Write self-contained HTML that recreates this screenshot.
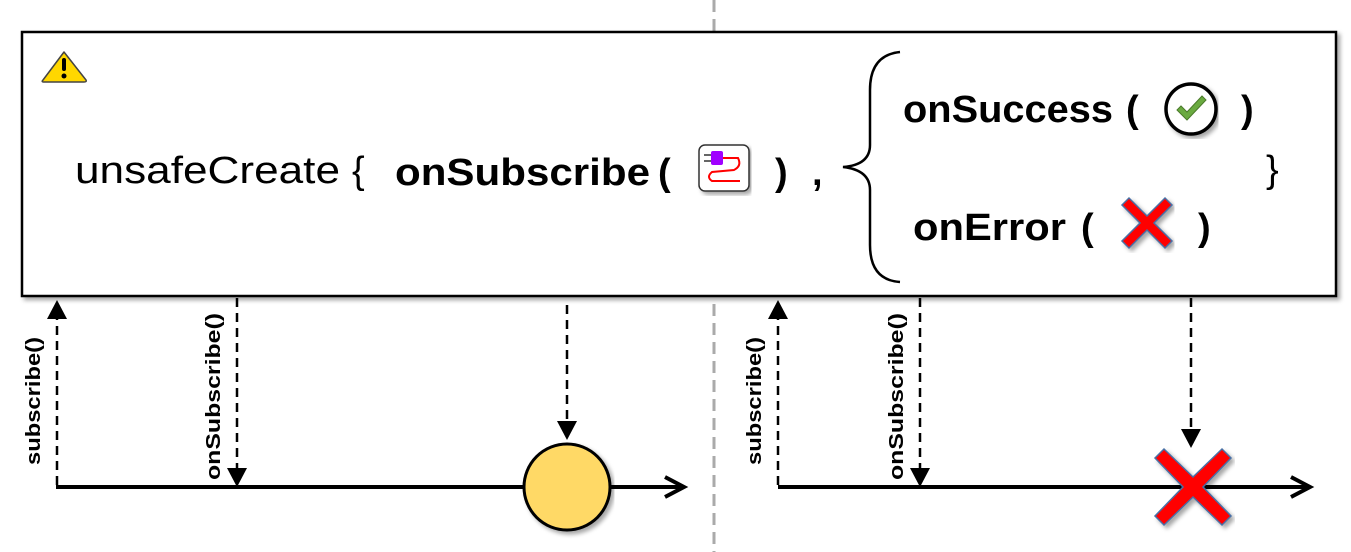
<!DOCTYPE html>
<html><head><meta charset="utf-8"><style>
html,body{margin:0;padding:0;background:#fff;}
svg{display:block;}
text{font-family:"Liberation Sans",sans-serif;}
</style></head><body>
<svg width="1351" height="552" viewBox="0 0 1351 552" xmlns="http://www.w3.org/2000/svg">
<defs>
<filter id="sh" x="-5%" y="-5%" width="110%" height="115%"><feDropShadow dx="3" dy="3" stdDeviation="2" flood-color="#000" flood-opacity="0.35"/></filter>
</defs>
<line x1="714" y1="0" x2="714" y2="552" stroke="#aaa" stroke-width="3" stroke-dasharray="12,7"/>
<rect x="22" y="32" width="1314" height="264" fill="#fff" stroke="#000" stroke-width="2.5" filter="url(#sh)"/>
<path d="M64,52 L86,80 Q87,82 84,82 L44,82 Q41,82 43,80 Z" fill="#FFD700" stroke="#444" stroke-width="1.5" stroke-linejoin="round"/>
<rect x="62" y="58" width="4" height="13" rx="2" fill="#000"/>
<circle cx="64" cy="76" r="2.5" fill="#000"/>
<text x="75" y="183" font-size="38" textLength="265" lengthAdjust="spacingAndGlyphs">unsafeCreate</text>
<text x="352" y="183" font-size="38">{</text>
<text x="395" y="185" font-size="38" font-weight="bold" textLength="255" lengthAdjust="spacingAndGlyphs">onSubscribe</text>
<text x="658" y="185" font-size="38" font-weight="bold">(</text>
<text x="775" y="185" font-size="38" font-weight="bold">)</text>
<text x="812" y="185" font-size="38" font-weight="bold">,</text>
<rect x="699" y="145" width="50" height="46" rx="6" fill="#fff" stroke="#333" stroke-width="1.5" filter="url(#sh)"/>
<rect x="711" y="151" width="12" height="14" rx="2" fill="#a000ff"/>
<rect x="704" y="154" width="7" height="2" fill="#666"/><rect x="704" y="160" width="7" height="2" fill="#666"/>
<path d="M723,158 L738,158 Q742,166 734,170 L712,172 Q706,177 712,181 L740,181" fill="none" stroke="#f00" stroke-width="2"/>
<path d="M900,52 Q870,55 870,90 L870,145 Q870,165 843,167 Q870,170 870,190 L870,245 Q870,280 900,282" fill="none" stroke="#000" stroke-width="2.5"/>
<text x="903" y="122" font-size="38" font-weight="bold" textLength="210" lengthAdjust="spacingAndGlyphs">onSuccess</text>
<text x="1126" y="122" font-size="38" font-weight="bold">(</text>
<text x="1241" y="122" font-size="38" font-weight="bold">)</text>
<text x="1266" y="182" font-size="38">}</text>
<circle cx="1191" cy="109" r="25" fill="#fff" stroke="#000" stroke-width="3.5" filter="url(#sh)"/>
<path d="M1177,110 L1187,120 L1206,100 L1202,96 L1187,112 L1181,106 Z" fill="#6aaa40" stroke="#4a7a2a" stroke-width="1"/>
<text x="913" y="240" font-size="38" font-weight="bold" textLength="153" lengthAdjust="spacingAndGlyphs">onError</text>
<text x="1081" y="240" font-size="38" font-weight="bold">(</text>
<text x="1198" y="240" font-size="38" font-weight="bold">)</text>
<g transform="translate(1147,223)" filter="url(#sh)">
<path d="M-25,-18 L-18,-25 L0,-7 L18,-25 L25,-18 L7,0 L25,18 L18,25 L0,7 L-18,25 L-25,18 L-7,0 Z" fill="#f00" stroke="#4a6fa5" stroke-width="1.5"/>
</g>
<g stroke="#000" fill="none">
<line x1="56" y1="487" x2="682" y2="487" stroke-width="4"/>
<path d="M665,477 L684,487 L665,497" stroke-width="4"/>
<line x1="57" y1="485" x2="57" y2="315" stroke-width="2.5" stroke-dasharray="9,6"/>
<line x1="237" y1="298" x2="237" y2="470" stroke-width="2.5" stroke-dasharray="9,6"/>
<line x1="567" y1="305" x2="567" y2="425" stroke-width="2.5" stroke-dasharray="9,6"/>
<line x1="778" y1="487" x2="1308" y2="487" stroke-width="4"/>
<path d="M1291,477 L1310,487 L1291,497" stroke-width="4"/>
<line x1="778" y1="485" x2="778" y2="315" stroke-width="2.5" stroke-dasharray="9,6"/>
<line x1="920" y1="298" x2="920" y2="470" stroke-width="2.5" stroke-dasharray="9,6"/>
<line x1="1191" y1="298" x2="1191" y2="430" stroke-width="2.5" stroke-dasharray="9,6"/>
</g>
<g fill="#000">
<path d="M57,300 L67,319 L47,319 Z"/>
<path d="M237,487 L227,468 L247,468 Z"/>
<path d="M567,440 L557,421 L577,421 Z"/>
<path d="M778,300 L788,319 L768,319 Z"/>
<path d="M920,487 L910,468 L930,468 Z"/>
<path d="M1191,448 L1181,429 L1201,429 Z"/>
</g>
<circle cx="567" cy="487" r="43" fill="#FFD966" stroke="#000" stroke-width="3" filter="url(#sh)"/>
<g transform="translate(1193,487)" filter="url(#sh)">
<path d="M-38,-29 L-29,-38 L0,-10 L29,-38 L38,-29 L10,0 L38,29 L29,38 L0,10 L-29,38 L-38,29 L-10,0 Z" fill="#f00" stroke="#4a6fa5" stroke-width="1.5"/>
</g>
<text transform="translate(40,465) rotate(-90)" font-size="20" font-weight="bold" textLength="128" lengthAdjust="spacingAndGlyphs">subscribe()</text>
<text transform="translate(220,480) rotate(-90)" font-size="20" font-weight="bold" textLength="167" lengthAdjust="spacingAndGlyphs">onSubscribe()</text>
<text transform="translate(761,465) rotate(-90)" font-size="20" font-weight="bold" textLength="128" lengthAdjust="spacingAndGlyphs">subscribe()</text>
<text transform="translate(903,480) rotate(-90)" font-size="20" font-weight="bold" textLength="167" lengthAdjust="spacingAndGlyphs">onSubscribe()</text>
</svg>
</body></html>
